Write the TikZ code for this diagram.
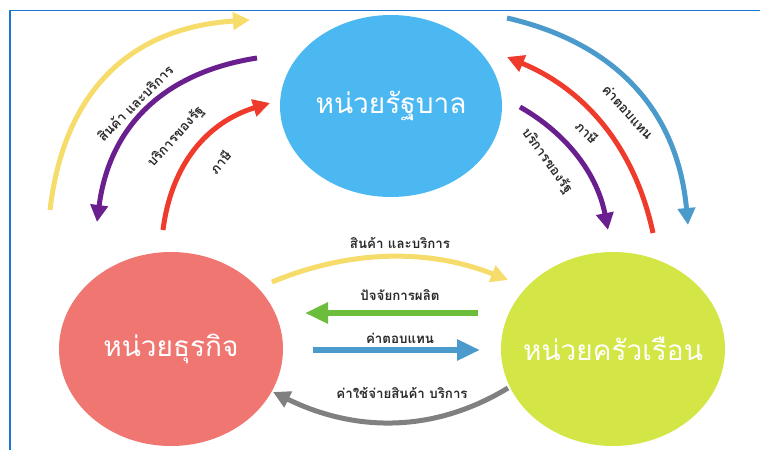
\documentclass[tikz,border=0pt]{standalone}
\usepackage{fontspec}
\newfontfamily\thai[Script=Thai]{Loma}
\usetikzlibrary{arrows.meta}
\definecolor{frameblue}{HTML}{1B78D0}
\definecolor{govblue}{HTML}{4BB8F2}
\definecolor{bizred}{HTML}{F07672}
\definecolor{homelime}{HTML}{D3E645}
\definecolor{ayellow}{HTML}{F6DC6A}
\definecolor{apurple}{HTML}{6A1F8E}
\definecolor{ared}{HTML}{EF3B2C}
\definecolor{ablue}{HTML}{4A9ACB}
\definecolor{agreen}{HTML}{6CBD3C}
\definecolor{agray}{HTML}{808080}
\definecolor{labelgray}{HTML}{2A2A2A}
\begin{document}
\begin{tikzpicture}[x=1pt,y=-1pt,
  unit/.style={inner sep=0pt, text=white, font=\thai\fontsize{28}{32}\selectfont},
  flow/.style={line width=5pt, -{Triangle[length=17pt,width=17pt]}},
  flowm/.style={line width=6pt, -{Triangle[length=23pt,width=20pt]}},
  lbl/.style={font=\thai\bfseries\fontsize{13.3}{16}\selectfont, text=labelgray, inner sep=1pt}]
\useasboundingbox (0,0) rectangle (760,450);
\draw[frameblue, line width=1.6pt] (10,450) -- (10,10.5) -- (760,10.5);

% circles
\fill[govblue] (391,106) ellipse [x radius=111, y radius=91];
\fill[bizred] (171,349) ellipse [x radius=112, y radius=97];
\fill[homelime] (613,349) ellipse [x radius=112, y radius=97];
\node[unit] (gov) at (391,106) {หน่วยรัฐบาล};
\node[unit] (biz) at (171,349) {หน่วยธุรกิจ};
\node[unit] (home) at (613,349) {หน่วยครัวเรือน};

% end points
\coordinate (ly0) at (50,210);  \coordinate (ly1) at (250,20);
\coordinate (lp0) at (257,58);  \coordinate (lp1) at (97,222);
\coordinate (lr0) at (163,230); \coordinate (lr1) at (270,103);
\coordinate (rb0) at (507,18);  \coordinate (rb1) at (688,225);
\coordinate (rr0) at (653,233); \coordinate (rr1) at (507,57);
\coordinate (rp0) at (520,107); \coordinate (rp1) at (608,230);
\coordinate (my0) at (272,282); \coordinate (my1) at (508,280);
\coordinate (mg0) at (478,313); \coordinate (mg1) at (305,313);
\coordinate (mb0) at (313,350); \coordinate (mb1) at (480,350);
\coordinate (mr0) at (508,388); \coordinate (mr1) at (273,392);

% left arcs
\draw[flow, ayellow] (ly0) .. controls (63.9,90.9) and (130.5,27.6) .. (ly1);
\draw[flow, apurple] (lp0) .. controls (162.6,72.7) and (109.3,127.3) .. (lp1);
\draw[flow, ared] (lr0) .. controls (171.3,164.6) and (207,122.3) .. (lr1);
% right arcs
\draw[flow, ablue] (rb0) .. controls (617.3,43.3) and (677.7,112.3) .. (rb1);
\draw[flow, ared] (rr0) .. controls (635.1,148.9) and (586.5,90.2) .. (rr1);
\draw[flow, apurple] (rp0) .. controls (568.3,134.5) and (597.6,175.5) .. (rp1);
% middle
\draw[flow, ayellow] (my0) .. controls (350.7,249.3) and (429.3,248.7) .. (my1);
\draw[flowm, agreen] (mg0) -- (mg1);
\draw[flowm, ablue] (mb0) -- (mb1);
\draw[flow, agray] (mr0) .. controls (435.7,432) and (357.3,433.3) .. (mr1);

% labels
\node[lbl, rotate=45] (t1) at (135,103) {สินค้า และบริการ};
\node[lbl, rotate=48] (t2) at (176,137) {บริการของรัฐ};
\node[lbl, rotate=50] (t3) at (220,162) {ภาษี};
\node[lbl, rotate=-48] (t4) at (628,112) {ค่าตอบแทน};
\node[lbl, rotate=-45] (t5) at (587,132) {ภาษี};
\node[lbl, rotate=-54] (t6) at (547,161) {บริการของรัฐ};
\node[lbl] (t7) at (400,243) {สินค้า และบริการ};
\node[lbl] (t8) at (400,295) {ปัจจัยการผลิต};
\node[lbl] (t9) at (400,338) {ค่าตอบแทน};
\node[lbl] (t10) at (402,393) {ค่าใช้จ่ายสินค้า บริการ};
\end{tikzpicture}
\end{document}
